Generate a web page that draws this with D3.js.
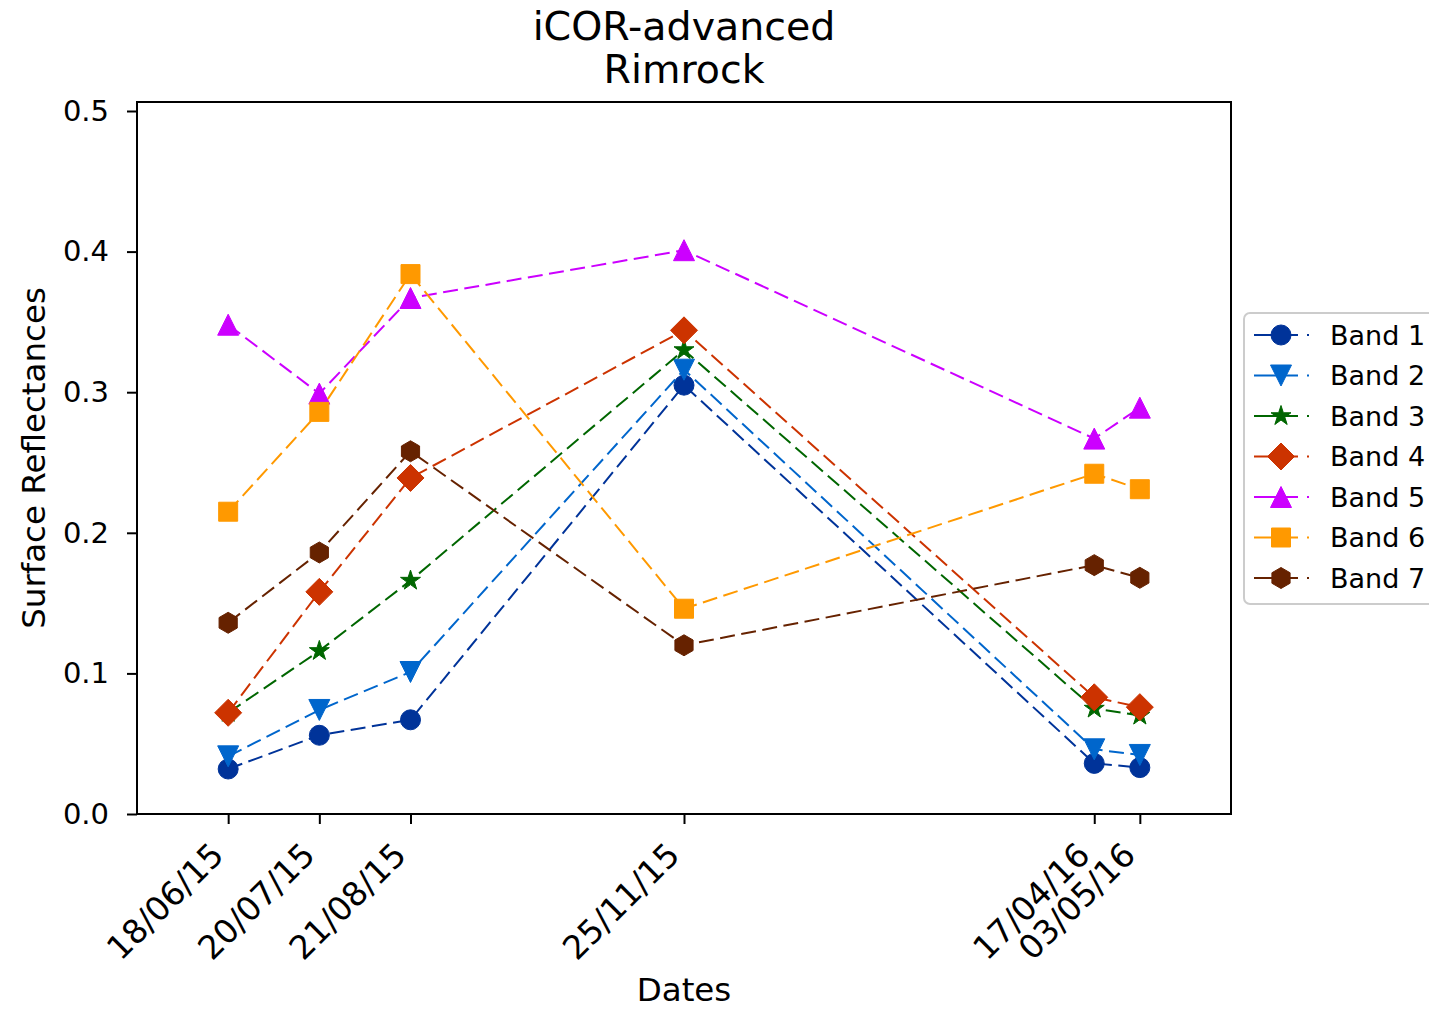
<!DOCTYPE html>
<html>
<head>
<meta charset="utf-8">
<script src="https://cdn.jsdelivr.net/npm/d3@7"></script>
<style>
  html, body { margin: 0; padding: 0; background: #ffffff; }
  svg { display: block; font-family: "DejaVu Sans", sans-serif; }
</style>
</head>
<body>
<svg id="chart" width="1429" height="1009"></svg>
<script>
// Acquisition dates and surface reflectance per Landsat band
const dates = ["18/06/15", "20/07/15", "21/08/15", "25/11/15", "17/04/16", "03/05/16"];
const bandNames = ["Band 1", "Band 2", "Band 3", "Band 4", "Band 5", "Band 6", "Band 7"];
const band1 = [0.032, 0.056, 0.067, 0.305, 0.036, 0.033];
const band2 = [0.041, 0.074, 0.101, 0.316, 0.046, 0.042];
const band3 = [0.072, 0.116, 0.166, 0.330, 0.075, 0.070];
const band4 = [0.072, 0.158, 0.239, 0.344, 0.083, 0.076];
const band5 = [0.348, 0.299, 0.367, 0.401, 0.267, 0.289];
const band6 = [0.215, 0.286, 0.384, 0.146, 0.242, 0.231];
const band7 = [0.136, 0.186, 0.258, 0.120, 0.177, 0.168];
const yTicks = [0.0, 0.1, 0.2, 0.3, 0.4, 0.5];

const bandValues = [band1, band2, band3, band4, band5, band6, band7];
const bandColors = ["#003399", "#0066CC", "#006600", "#CC3300", "#CC00FF", "#FF9900", "#662200"];
const bandMarkers = ["circle", "triDown", "star", "diamond", "triUp", "square", "hexagon"];

const svg = d3.select("#chart");
const plot = { left: 137, right: 1231, top: 102, bottom: 814 };

const parse = d3.utcParse("%d/%m/%y");
const fmt = d3.utcFormat("%d/%m/%y");
const dateObjs = dates.map(parse);

// x domain padded by 10% of the date span on each side
const t0 = dateObjs[0].getTime(), t1 = dateObjs[dateObjs.length - 1].getTime();
const pad = (t1 - t0) * 0.1;
const x = d3.scaleUtc()
  .domain([new Date(t0 - pad), new Date(t1 + pad)])
  .range([plot.left, plot.right]);
const y = d3.scaleLinear()
  .domain([0, 0.5064])
  .range([plot.bottom, plot.top]);

// Marker path generator (sizes in px)
function markerPath(kind) {
  const p = d3.path();
  const poly = (pts) => {
    pts.forEach((pt, i) => i ? p.lineTo(pt[0], pt[1]) : p.moveTo(pt[0], pt[1]));
    p.closePath();
  };
  switch (kind) {
    case "circle":
      p.arc(0, 0, 10, 0, 2 * Math.PI); p.closePath(); break;
    case "triDown":
      poly([[0, 10.5], [-10.5, -10.5], [10.5, -10.5]]); break;
    case "triUp":
      poly([[0, -10.5], [-10.5, 10.5], [10.5, 10.5]]); break;
    case "square":
      poly([[-9.5, -9.5], [9.5, -9.5], [9.5, 9.5], [-9.5, 9.5]]); break;
    case "diamond":
      poly([[0, -13.5], [13.5, 0], [0, 13.5], [-13.5, 0]]); break;
    case "hexagon": {
      const r = 10.5, pts = [];
      for (let i = 0; i < 6; i++) {
        const a = -Math.PI / 2 + i * Math.PI / 3;
        pts.push([r * Math.cos(a), r * Math.sin(a)]);
      }
      poly(pts); break;
    }
    case "star": {
      const ro = 10.5, ri = ro * 0.381966, pts = [];
      for (let i = 0; i < 10; i++) {
        const a = -Math.PI / 2 + i * Math.PI / 5;
        const r = i % 2 ? ri : ro;
        pts.push([r * Math.cos(a), r * Math.sin(a)]);
      }
      poly(pts); break;
    }
  }
  return p.toString();
}

// Title
const title = svg.append("g").attr("font-size", 39.5).attr("text-anchor", "middle").attr("fill", "#000");
title.append("text").attr("x", (plot.left + plot.right) / 2).attr("y", 40).text("iCOR-advanced");
title.append("text").attr("x", (plot.left + plot.right) / 2).attr("y", 83).text("Rimrock");

// Y axis
const yAxis = d3.axisLeft(y).tickValues(yTicks).tickFormat(d3.format(".1f")).tickSize(10).tickPadding(18);
const gy = svg.append("g").attr("transform", `translate(${plot.left},0)`).call(yAxis);
gy.select(".domain").remove();
gy.selectAll(".tick line").attr("stroke", "#000").attr("stroke-width", 2);
gy.selectAll(".tick text").attr("font-size", 29).attr("font-family", "DejaVu Sans, sans-serif").attr("fill", "#000");

// X axis, labels rotated 45 degrees and right-aligned at each tick
const xAxis = d3.axisBottom(x).tickValues(dateObjs).tickFormat(fmt).tickSize(10);
const gx = svg.append("g").attr("transform", `translate(0,${plot.bottom})`).call(xAxis);
gx.select(".domain").remove();
gx.selectAll(".tick line").attr("stroke", "#000").attr("stroke-width", 2);
gx.selectAll(".tick text")
  .attr("font-size", 33).attr("font-family", "DejaVu Sans, sans-serif").attr("fill", "#000")
  .attr("text-anchor", "end")
  .attr("x", -3).attr("y", 43).attr("dy", 0)
  .attr("transform", "rotate(-45, -3, 43)");

// Axis labels
svg.append("text").attr("x", (plot.left + plot.right) / 2).attr("y", 1001)
  .attr("text-anchor", "middle").attr("font-size", 32.5).text("Dates");
svg.append("text").attr("transform", `translate(45,${(plot.top + plot.bottom) / 2}) rotate(-90)`)
  .attr("text-anchor", "middle").attr("font-size", 32.5).text("Surface Reflectances");

// Series: dashed lines with markers, drawn band by band
const line = d3.line().x((d, i) => x(dateObjs[i])).y(d => y(d));
bandValues.forEach((vals, k) => {
  const g = svg.append("g").attr("class", "series");
  g.append("path")
    .attr("d", line(vals))
    .attr("fill", "none")
    .attr("stroke", bandColors[k])
    .attr("stroke-width", 2)
    .attr("stroke-dasharray", "15,6.5");
  g.selectAll("path.marker").data(vals).join("path")
    .attr("class", "marker")
    .attr("d", markerPath(bandMarkers[k]))
    .attr("transform", (d, i) => `translate(${x(dateObjs[i])},${y(d)})`)
    .attr("fill", bandColors[k])
    .attr("stroke", bandColors[k])
    .attr("stroke-width", 1);
});

// Plot frame
svg.append("rect")
  .attr("x", plot.left).attr("y", plot.top)
  .attr("width", plot.right - plot.left).attr("height", plot.bottom - plot.top)
  .attr("fill", "none").attr("stroke", "#000").attr("stroke-width", 2);

// Legend
const legend = svg.append("g").attr("transform", "translate(1244,313)");
legend.append("rect")
  .attr("x", 0).attr("y", 0).attr("width", 200).attr("height", 291)
  .attr("rx", 6).attr("ry", 6)
  .attr("fill", "#ffffff").attr("fill-opacity", 0.8)
  .attr("stroke", "#cccccc").attr("stroke-width", 2);
bandNames.forEach((name, k) => {
  const cy = 22 + k * 40.5;
  const row = legend.append("g").attr("transform", `translate(0,${cy})`);
  row.append("line").attr("x1", 10).attr("x2", 66).attr("y1", 0).attr("y2", 0)
    .attr("stroke", bandColors[k]).attr("stroke-width", 2)
    .attr("stroke-dasharray", "44,9,2,100");
  row.append("path").attr("d", markerPath(bandMarkers[k]))
    .attr("transform", "translate(37,0)")
    .attr("fill", bandColors[k]).attr("stroke", bandColors[k]).attr("stroke-width", 1);
  row.append("text").attr("x", 86).attr("y", 0).attr("dy", "0.36em")
    .attr("font-size", 27).attr("fill", "#000").text(name);
});
</script>
</body>
</html>
